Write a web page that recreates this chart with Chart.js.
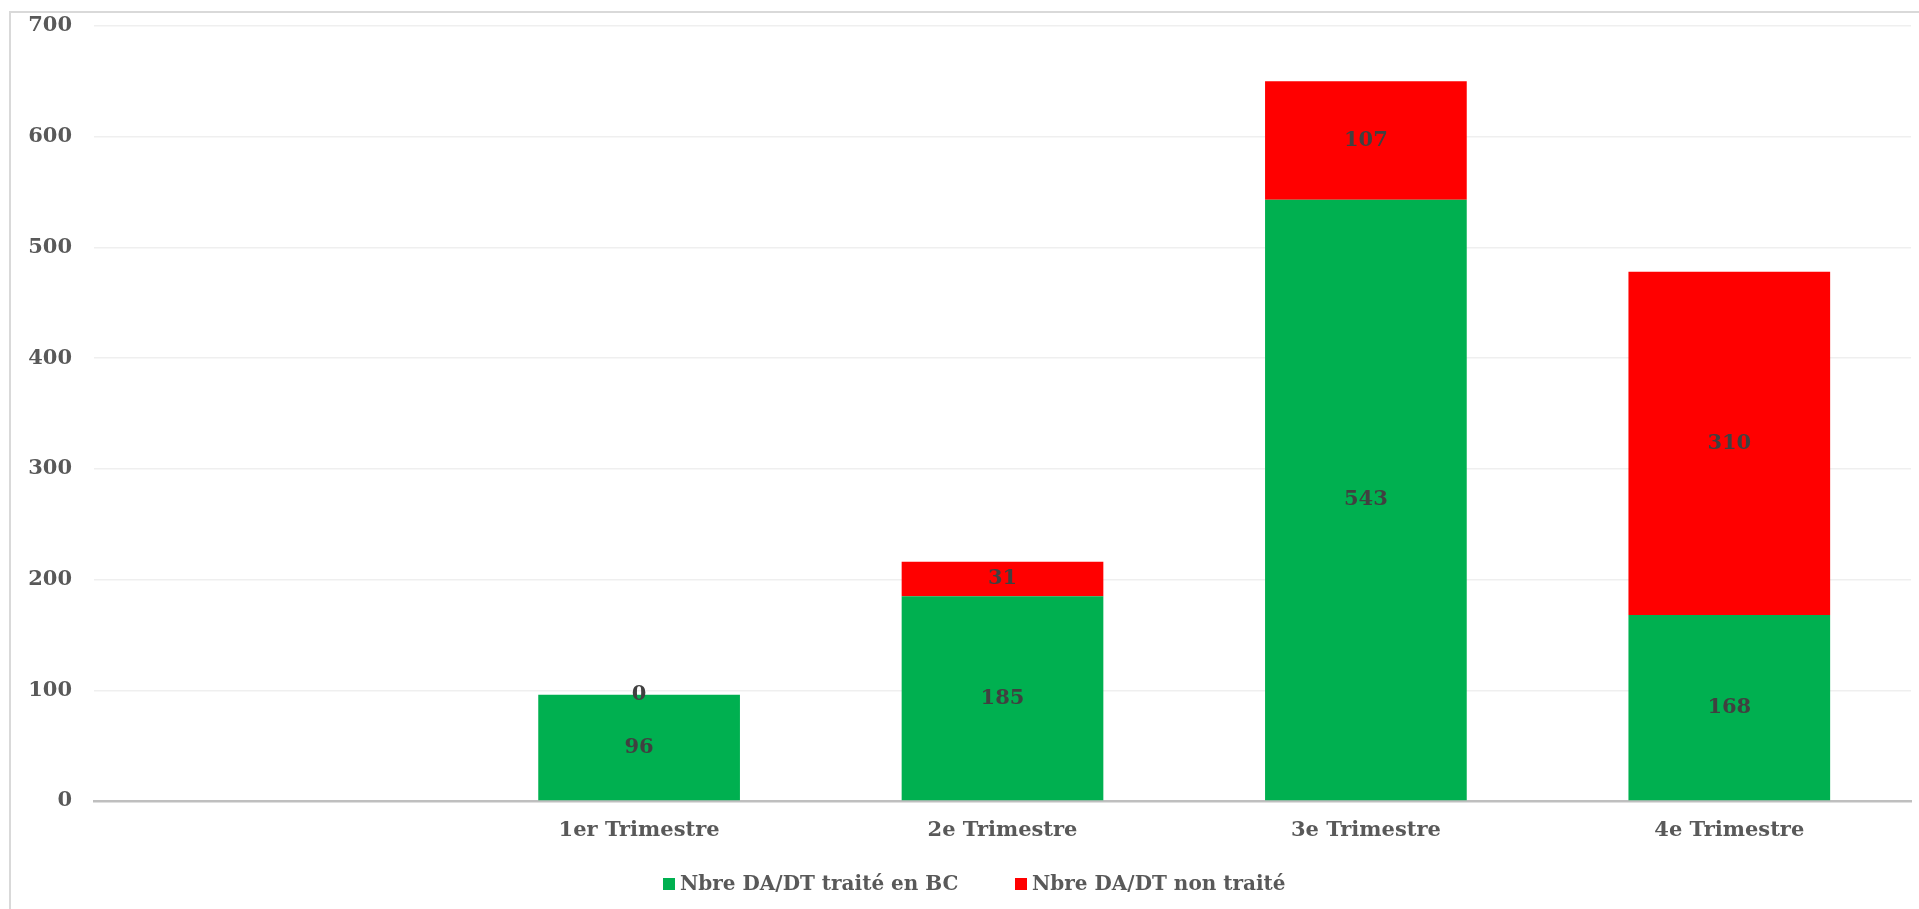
<!DOCTYPE html>
<html lang="fr">
<head>
<meta charset="utf-8">
<title>DA/DT par trimestre</title>
<script src="https://cdn.jsdelivr.net/npm/chart.js@4.4.1/dist/chart.umd.min.js"></script>
<style>
  html, body { margin: 0; padding: 0; background: #fff; overflow: hidden; }
  #frame {
    position: absolute; left: 9px; top: 11px;
    width: 1930px; height: 920px;
    border: 2px solid #d9d9d9; box-sizing: border-box;
  }
  #wrap { position: absolute; left: 0; top: 0; width: 1919px; height: 909px; }
</style>
</head>
<body>
<div id="frame"></div>
<div id="wrap"><canvas id="trendChart"></canvas></div>
<script>
// categories (first slot left empty, as in the workbook)
const labels = ["", "1er Trimestre", "2e Trimestre", "3e Trimestre", "4e Trimestre"];

const traiteEnBC = [null, 96, 185, 543, 168];
const nonTraite = [null, 0, 31, 107, 310];

const yTicks = [0, 100, 200, 300, 400, 500, 600, 700];

const FONT = "'DejaVu Serif', 'Liberation Serif', serif";
const FONT_SIZE = 21;

// prints each segment's value in the middle of its bar
const segmentLabels = {
  id: "segmentLabels",
  afterDatasetsDraw(chart) {
    const ctx = chart.ctx;
    ctx.save();
    ctx.font = "bold " + FONT_SIZE + "px " + FONT;
    ctx.fillStyle = "#404040";
    ctx.textAlign = "center";
    ctx.textBaseline = "middle";
    chart.data.datasets.forEach((ds, i) => {
      chart.getDatasetMeta(i).data.forEach((bar, j) => {
        const v = ds.data[j];
        if (v === null || v === undefined) return;
        ctx.fillText(String(v), bar.x, (bar.y + bar.base) / 2);
      });
    });
    ctx.restore();
  }
};

// legend under the axis: small square + series name at fixed slots
const bottomLegend = {
  id: "bottomLegend",
  afterDraw(chart, args, opts) {
    const ctx = chart.ctx;
    const box = 12, gapText = 5;
    ctx.save();
    ctx.font = "bold " + opts.fontSize + "px " + FONT;
    ctx.textBaseline = "middle";
    ctx.textAlign = "left";
    chart.data.datasets.forEach((ds, i) => {
      const x = opts.slots[i];
      ctx.fillStyle = ds.backgroundColor;
      ctx.fillRect(x, opts.y - box / 2, box, box);
      ctx.fillStyle = "#595959";
      ctx.fillText(ds.label, x + box + gapText, opts.y + 1);
    });
    ctx.restore();
  }
};

document.addEventListener("DOMContentLoaded", () => {
  const ctx = document.getElementById("trendChart").getContext("2d");

  new Chart(ctx, {
    type: "bar",
    data: {
      labels,
      datasets: [
        {
          label: "Nbre DA/DT traité en BC",
          data: traiteEnBC,
          backgroundColor: "#00b050",
          stack: "s"
        },
        {
          label: "Nbre DA/DT non traité",
          data: nonTraite,
          backgroundColor: "#ff0000",
          stack: "s"
        }
      ]
    },
    options: {
      responsive: true,
      maintainAspectRatio: false,
      animation: false,
      categoryPercentage: 1,
      barPercentage: 0.555,
      layout: { padding: { left: 20, top: 26, right: 8, bottom: 45 } },
      plugins: {
        legend: { display: false },
        tooltip: { enabled: false },
        bottomLegend: { slots: [663, 1015], y: 884, fontSize: 20 }
      },
      scales: {
        x: {
          stacked: true,
          grid: { display: false },
          border: { color: "#bfbfbf", width: 2.5 },
          ticks: {
            color: "#595959",
            font: { family: FONT, size: FONT_SIZE, weight: "bold" },
            padding: 9,
            maxRotation: 0
          },
          afterFit(scale) { scale.height = 63; }
        },
        y: {
          stacked: true,
          min: 0,
          max: 700,
          afterBuildTicks(scale) { scale.ticks = yTicks.map(v => ({ value: v })); },
          grid: {
            color: c => (c.tick && c.tick.value === 0 ? "transparent" : "#efefef"),
            lineWidth: 1.5,
            drawTicks: false
          },
          border: { display: false },
          ticks: {
            color: "#595959",
            font: { family: FONT, size: FONT_SIZE, weight: "bold" },
            padding: 22
          },
          afterFit(scale) {
            scale.width = 74;
            // let the plot run right up to the top padding
            scale.paddingTop = 0;
            scale.paddingBottom = 0;
          }
        }
      }
    },
    plugins: [segmentLabels, bottomLegend]
  });
});
</script>
</body>
</html>
